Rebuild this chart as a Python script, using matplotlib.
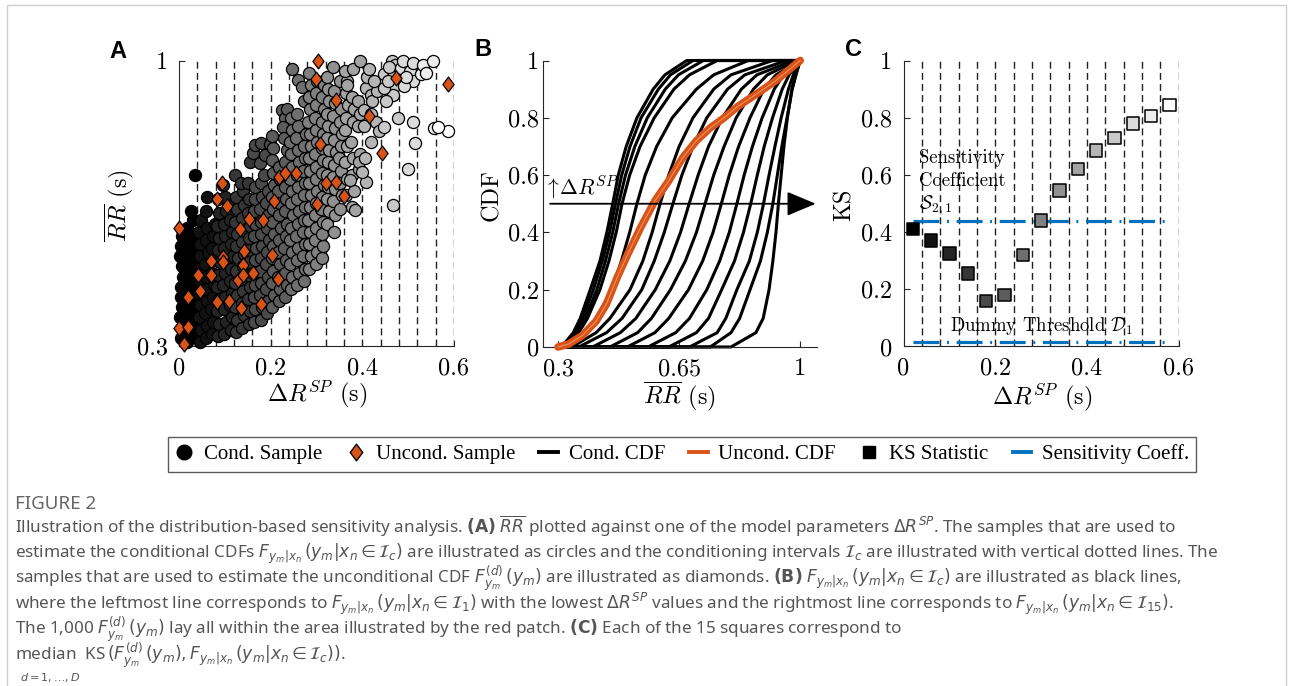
import matplotlib
matplotlib.use('Agg')
import matplotlib.pyplot as plt
from matplotlib.lines import Line2D
from matplotlib.patches import Rectangle
from matplotlib.path import Path

# ---------------- data ----------------
interval_edges = [0.04, 0.08, 0.12, 0.16, 0.20, 0.24, 0.28, 0.32, 0.36, 0.40, 0.44, 0.48, 0.52, 0.56, 0.60]
interval_mid = [0.02, 0.06, 0.10, 0.14, 0.18, 0.22, 0.26, 0.30, 0.34, 0.38, 0.42, 0.46, 0.50, 0.54, 0.58]
interval_gray = [0.0, 0.07, 0.14, 0.21, 0.29, 0.36, 0.43, 0.50, 0.57, 0.64, 0.71, 0.79, 0.86, 0.93, 1.0]

# conditional samples (circles), one list per conditioning interval
cond_x = [
    [0.004, 0.006, 0.003, 0.007, 0.005, 0.004, 0.008, 0.006, 0.003, 0.005, 0.007,
     0.017, 0.020, 0.015, 0.022, 0.018, 0.021, 0.016, 0.019, 0.023, 0.017, 0.020, 0.018,
     0.031, 0.034, 0.029, 0.036, 0.032, 0.035, 0.030, 0.033, 0.037, 0.031, 0.035, 0.030,
     0.034, 0.027],
    [0.045, 0.048, 0.044, 0.047, 0.043, 0.046, 0.049, 0.045, 0.047, 0.044, 0.048,
     0.058, 0.061, 0.057, 0.062, 0.059, 0.060, 0.056, 0.063, 0.058, 0.061, 0.059, 0.062,
     0.072, 0.075, 0.071, 0.074, 0.077, 0.073, 0.076, 0.072, 0.075, 0.078],
    [0.085, 0.088, 0.084, 0.087, 0.083, 0.086, 0.089, 0.085, 0.087, 0.084, 0.088, 0.086,
     0.099, 0.102, 0.098, 0.101, 0.097, 0.100, 0.103, 0.099, 0.101, 0.098, 0.102, 0.100, 0.097,
     0.113, 0.116, 0.112, 0.115, 0.111, 0.114, 0.117, 0.113, 0.115, 0.112, 0.116],
    [0.124, 0.127, 0.123, 0.126, 0.122, 0.125, 0.128, 0.124, 0.126, 0.123, 0.127, 0.125, 0.122,
     0.138, 0.141, 0.137, 0.140, 0.136, 0.139, 0.142, 0.138, 0.140, 0.137, 0.141, 0.139, 0.136,
     0.152, 0.155, 0.151, 0.154, 0.150, 0.153, 0.156, 0.152, 0.154, 0.151, 0.155, 0.153, 0.151],
    [0.164, 0.167, 0.163, 0.166, 0.162, 0.165, 0.168, 0.164, 0.166, 0.163, 0.167, 0.165, 0.162, 0.167,
     0.178, 0.181, 0.177, 0.180, 0.176, 0.179, 0.182, 0.178, 0.180, 0.177, 0.181, 0.179, 0.176, 0.178,
     0.192, 0.195, 0.191, 0.194, 0.190, 0.193, 0.196, 0.192, 0.194, 0.191, 0.195, 0.198, 0.188, 0.185],
    [0.204, 0.207, 0.203, 0.206, 0.202, 0.205, 0.208, 0.204, 0.206, 0.203, 0.207, 0.205, 0.202, 0.206, 0.204,
     0.218, 0.221, 0.217, 0.220, 0.216, 0.219, 0.222, 0.218, 0.220, 0.217, 0.221, 0.219, 0.224, 0.231, 0.227, 0.235,
     0.232, 0.235, 0.231, 0.234, 0.230, 0.233, 0.236, 0.232, 0.234, 0.231, 0.235, 0.232, 0.236, 0.229],
    [0.244, 0.247, 0.243, 0.246, 0.242, 0.245, 0.248, 0.244, 0.246, 0.243, 0.247, 0.245, 0.242, 0.246, 0.244, 0.246, 0.259,
     0.258, 0.261, 0.257, 0.260, 0.256, 0.259, 0.262, 0.258, 0.260, 0.257, 0.261, 0.259, 0.256, 0.260, 0.258,
     0.272, 0.275, 0.271, 0.274, 0.270, 0.273, 0.276, 0.272, 0.274, 0.271, 0.275, 0.273, 0.277, 0.272, 0.268],
    [0.284, 0.287, 0.283, 0.286, 0.282, 0.285, 0.288, 0.284, 0.286, 0.283, 0.287, 0.285, 0.282, 0.286, 0.284, 0.287, 0.283,
     0.298, 0.301, 0.297, 0.300, 0.296, 0.299, 0.302, 0.298, 0.300, 0.297, 0.301, 0.299, 0.296, 0.300, 0.298, 0.301,
     0.312, 0.315, 0.311, 0.314, 0.310, 0.313, 0.316, 0.312, 0.314, 0.311, 0.315, 0.313, 0.317, 0.313, 0.316],
    [0.324, 0.327, 0.323, 0.326, 0.322, 0.325, 0.328, 0.324, 0.326, 0.323, 0.327, 0.325, 0.322,
     0.338, 0.341, 0.337, 0.340, 0.336, 0.339, 0.342, 0.338, 0.340, 0.337, 0.341, 0.339, 0.336,
     0.352, 0.355, 0.351, 0.354, 0.350, 0.353, 0.356, 0.352, 0.354, 0.351],
    [0.364, 0.367, 0.363, 0.366, 0.362, 0.365, 0.368, 0.364, 0.366, 0.363, 0.367,
     0.378, 0.381, 0.377, 0.380, 0.376, 0.379, 0.382, 0.378, 0.380, 0.374,
     0.392, 0.395, 0.391, 0.394, 0.390, 0.396, 0.393, 0.383],
    [0.404, 0.407, 0.418, 0.422, 0.432, 0.418, 0.410, 0.426, 0.407, 0.403, 0.430, 0.415, 0.437, 0.405, 0.400, 0.420],
    [0.448, 0.466, 0.464, 0.466, 0.466, 0.448, 0.477, 0.466, 0.448, 0.455, 0.472, 0.458, 0.452],
    [0.484, 0.488, 0.503, 0.510, 0.492, 0.510, 0.516, 0.499, 0.510, 0.495],
    [0.528, 0.532, 0.555, 0.540, 0.556],
    [0.587, 0.565],
]
cond_y = [
    [0.320, 0.345, 0.370, 0.395, 0.420, 0.445, 0.470, 0.495, 0.520, 0.545, 0.570,
     0.310, 0.335, 0.360, 0.385, 0.410, 0.435, 0.460, 0.485, 0.510, 0.535, 0.560, 0.590,
     0.325, 0.350, 0.375, 0.400, 0.425, 0.450, 0.475, 0.500, 0.525, 0.550, 0.575, 0.610,
     0.719, 0.632],
    [0.31, 0.34, 0.37, 0.40, 0.43, 0.46, 0.49, 0.52, 0.55, 0.58, 0.61,
     0.32, 0.35, 0.38, 0.41, 0.44, 0.47, 0.50, 0.53, 0.56, 0.59, 0.63, 0.665,
     0.33, 0.36, 0.39, 0.42, 0.45, 0.48, 0.51, 0.54, 0.57, 0.60],
    [0.325, 0.355, 0.385, 0.415, 0.445, 0.475, 0.505, 0.535, 0.565, 0.595, 0.625, 0.660,
     0.330, 0.360, 0.390, 0.420, 0.450, 0.480, 0.510, 0.540, 0.570, 0.600, 0.630, 0.665, 0.695,
     0.340, 0.370, 0.400, 0.430, 0.460, 0.490, 0.520, 0.550, 0.580, 0.610, 0.645],
    [0.335, 0.365, 0.395, 0.425, 0.455, 0.485, 0.515, 0.545, 0.575, 0.605, 0.635, 0.665, 0.720,
     0.345, 0.375, 0.405, 0.435, 0.465, 0.495, 0.525, 0.555, 0.585, 0.615, 0.645, 0.680, 0.700,
     0.355, 0.385, 0.415, 0.445, 0.475, 0.505, 0.535, 0.565, 0.595, 0.625, 0.751, 0.660, 0.700],
    [0.360, 0.390, 0.420, 0.450, 0.480, 0.510, 0.540, 0.570, 0.600, 0.630, 0.660, 0.690, 0.773, 0.793,
     0.365, 0.395, 0.425, 0.455, 0.485, 0.515, 0.545, 0.575, 0.605, 0.635, 0.665, 0.700, 0.748, 0.797,
     0.380, 0.410, 0.440, 0.470, 0.500, 0.530, 0.560, 0.590, 0.620, 0.650, 0.680, 0.795, 0.768, 0.720],
    [0.395, 0.425, 0.455, 0.485, 0.515, 0.545, 0.575, 0.605, 0.635, 0.665, 0.695, 0.725, 0.755, 0.785, 0.815,
     0.410, 0.440, 0.470, 0.500, 0.530, 0.560, 0.590, 0.620, 0.650, 0.680, 0.710, 0.740, 0.879, 0.860, 0.837, 0.881,
     0.420, 0.450, 0.480, 0.510, 0.540, 0.570, 0.600, 0.630, 0.660, 0.690, 0.720, 0.750, 0.780, 0.810],
    [0.44, 0.47, 0.50, 0.53, 0.56, 0.59, 0.62, 0.65, 0.68, 0.71, 0.74, 0.77, 0.80, 0.83, 0.86, 0.978, 0.951,
     0.45, 0.48, 0.51, 0.54, 0.57, 0.60, 0.63, 0.66, 0.69, 0.72, 0.75, 0.78, 0.81, 0.84, 0.87,
     0.46, 0.49, 0.52, 0.55, 0.58, 0.61, 0.64, 0.67, 0.70, 0.73, 0.76, 0.79, 0.82, 0.90, 0.935],
    [0.49, 0.52, 0.55, 0.58, 0.61, 0.64, 0.67, 0.70, 0.73, 0.76, 0.79, 0.82, 0.85, 0.88, 0.91, 0.94, 0.97,
     0.50, 0.53, 0.56, 0.59, 0.62, 0.65, 0.68, 0.71, 0.74, 0.77, 0.80, 0.83, 0.86, 0.89, 0.92, 0.95,
     0.515, 0.545, 0.575, 0.605, 0.635, 0.665, 0.695, 0.725, 0.755, 0.785, 0.82, 0.85, 0.88, 0.91, 0.94],
    [0.60, 0.63, 0.66, 0.69, 0.72, 0.75, 0.78, 0.81, 0.84, 0.87, 0.90, 0.93, 0.96,
     0.58, 0.62, 0.655, 0.685, 0.715, 0.745, 0.775, 0.805, 0.835, 0.865, 0.895, 0.925, 0.985,
     0.637, 0.67, 0.70, 0.73, 0.76, 0.79, 0.82, 0.85, 0.88, 0.95],
    [0.67, 0.71, 0.75, 0.79, 0.83, 0.86, 0.89, 0.92, 0.95, 0.975, 0.94,
     0.64, 0.68, 0.72, 0.76, 0.80, 0.85, 0.88, 0.91, 0.978, 0.707,
     0.735, 0.77, 0.84, 0.87, 0.90, 1.0, 0.752, 0.633],
    [0.879, 0.933, 0.916, 0.900, 0.925, 0.870, 0.960, 0.950, 0.703, 0.840, 0.850, 0.980, 0.826, 0.760, 0.727, 0.800],
    [0.966, 0.974, 1.000, 0.933, 0.916, 0.838, 0.860, 0.645, 0.933, 0.950, 0.990, 0.985, 0.900],
    [0.982, 1.000, 0.974, 0.949, 0.937, 0.850, 0.797, 0.735, 0.995, 0.960],
    [0.966, 0.990, 1.000, 0.970, 0.835],
    [0.826, 0.836],
]

# unconditional samples (diamonds)
uncond_x = [0.303, 0.299, 0.474, 0.588, 0.343, 0.415, 0.307, 0.442, 0.095, 0.219, 0.232, 0.255,
            0.320, 0.342, 0.361, 0.082, 0.104, 0.207, 0.301, 0.000, 0.153, 0.184, 0.133, 0.142,
            0.202, 0.096, 0.069, 0.096, 0.140, 0.161, 0.042, 0.071, 0.128, 0.140, 0.215, 0.045,
            0.020, 0.084, 0.109, 0.135, 0.180, 0.000, 0.020, 0.012]
uncond_y = [1.000, 0.955, 0.957, 0.943, 0.904, 0.864, 0.795, 0.774, 0.700, 0.715, 0.725, 0.723,
            0.700, 0.702, 0.667, 0.660, 0.643, 0.656, 0.649, 0.590, 0.612, 0.610, 0.587, 0.534,
            0.522, 0.519, 0.509, 0.505, 0.499, 0.479, 0.474, 0.474, 0.462, 0.474, 0.464, 0.435,
            0.420, 0.408, 0.411, 0.394, 0.402, 0.343, 0.347, 0.306]

# conditional CDFs: RR value reached at each CDF level, one row per interval
cdf_levels = [0.0, 0.05, 0.1, 0.2, 0.3, 0.4, 0.5, 0.6, 0.7, 0.8, 0.9, 0.95, 1.0]
cond_cdf_q = [
    [0.310, 0.344, 0.364, 0.393, 0.421, 0.441, 0.458, 0.474, 0.497, 0.528, 0.575, 0.609, 0.672],
    [0.310, 0.350, 0.370, 0.402, 0.428, 0.449, 0.466, 0.484, 0.508, 0.540, 0.590, 0.625, 0.690],
    [0.315, 0.355, 0.378, 0.412, 0.437, 0.458, 0.475, 0.495, 0.522, 0.558, 0.610, 0.648, 0.720],
    [0.320, 0.360, 0.385, 0.421, 0.447, 0.468, 0.485, 0.507, 0.537, 0.578, 0.635, 0.680, 0.760],
    [0.330, 0.380, 0.410, 0.455, 0.483, 0.507, 0.528, 0.552, 0.585, 0.630, 0.700, 0.750, 0.850],
    [0.340, 0.410, 0.450, 0.508, 0.545, 0.572, 0.595, 0.620, 0.650, 0.690, 0.750, 0.800, 0.920],
    [0.360, 0.440, 0.485, 0.542, 0.578, 0.607, 0.632, 0.658, 0.690, 0.730, 0.790, 0.840, 0.960],
    [0.400, 0.480, 0.525, 0.581, 0.623, 0.654, 0.679, 0.705, 0.735, 0.775, 0.830, 0.875, 0.980],
    [0.450, 0.530, 0.570, 0.625, 0.668, 0.700, 0.725, 0.750, 0.780, 0.815, 0.865, 0.905, 0.990],
    [0.500, 0.580, 0.620, 0.677, 0.718, 0.748, 0.772, 0.795, 0.822, 0.855, 0.895, 0.930, 1.000],
    [0.560, 0.640, 0.680, 0.730, 0.767, 0.795, 0.817, 0.838, 0.862, 0.890, 0.925, 0.952, 1.000],
    [0.620, 0.700, 0.735, 0.773, 0.810, 0.836, 0.857, 0.876, 0.896, 0.920, 0.948, 0.968, 1.000],
    [0.680, 0.760, 0.785, 0.817, 0.853, 0.876, 0.894, 0.910, 0.927, 0.945, 0.966, 0.980, 1.000],
    [0.740, 0.800, 0.825, 0.855, 0.885, 0.905, 0.921, 0.934, 0.947, 0.962, 0.977, 0.988, 1.000],
    [0.800, 0.872, 0.893, 0.910, 0.921, 0.930, 0.937, 0.945, 0.953, 0.963, 0.976, 0.987, 1.000],
]
uncond_cdf_x = [0.30, 0.33, 0.37, 0.41, 0.44, 0.47, 0.50, 0.54, 0.58, 0.62, 0.66, 0.70, 0.74, 0.78, 0.82, 0.87, 0.93, 1.00]
uncond_cdf_y = [0.00, 0.01, 0.04, 0.09, 0.15, 0.24, 0.32, 0.42, 0.51, 0.58, 0.66, 0.72, 0.765, 0.80, 0.84, 0.88, 0.93, 1.00]

# KS statistic per interval and the two reference levels
ks_stat = [0.41, 0.37, 0.325, 0.255, 0.16, 0.18, 0.32, 0.44, 0.545, 0.62, 0.685, 0.73, 0.78, 0.805, 0.845]
sens_coeff = 0.44
dummy_threshold = 0.017

ORANGE = '#D95319'
BLUE = '#0072BD'
AXC = '#262626'

plt.rcParams['font.family'] = 'serif'
plt.rcParams['font.serif'] = ['cmr10']
plt.rcParams['mathtext.fontset'] = 'cm'
plt.rcParams['axes.formatter.use_mathtext'] = True
plt.rcParams['font.size'] = 17

diamond = Path([(0, 1), (0.75, 0), (0, -1), (-0.75, 0), (0, 1)],
               [Path.MOVETO, Path.LINETO, Path.LINETO, Path.LINETO, Path.CLOSEPOLY])

fig = plt.figure(figsize=(12.93, 6.86), dpi=100)


def style_axes(ax, ypad):
    for s in ['top', 'right']:
        ax.spines[s].set_visible(False)
    for s in ['left', 'bottom']:
        ax.spines[s].set_color(AXC)
        ax.spines[s].set_linewidth(0.8)
    ax.tick_params(direction='in', length=4, width=0.8, color=AXC, labelsize=17.5)
    ax.tick_params(axis='x', pad=8)
    ax.tick_params(axis='y', pad=ypad)


# ---------------- panel A ----------------
axA = fig.add_axes([0.1384, 0.4956, 0.2127, 0.4162])
axA.set_xlim(0, 0.6)
axA.set_ylim(0.3, 1)
axA.vlines(interval_edges, 0.3, 1.0, colors='#222222', linestyles=(0, (5, 3)), linewidth=1.0, zorder=1)
for c in range(len(cond_x)):
    g = interval_gray[c]
    axA.scatter(cond_x[c], cond_y[c], s=76, color=(g, g, g), edgecolors='k', linewidths=0.9,
                zorder=3, clip_on=False)
axA.scatter(uncond_x, uncond_y, marker=diamond, s=115, color=ORANGE, edgecolors='k', linewidths=0.9,
            zorder=4, clip_on=False)
axA.set_xticks([0, 0.2, 0.4, 0.6])
axA.set_xticklabels(['0', '0.2', '0.4', '0.6'])
axA.set_yticks([0.3, 1])
axA.set_yticklabels(['0.3', '1'])
style_axes(axA, 8)
axA.text(0.502, -0.172, r'$\Delta R^{SP}$ (s)', transform=axA.transAxes, ha='center', va='center', fontsize=17.5)
axA.text(-0.215, 0.494, r'$\overline{RR}$ (s)', transform=axA.transAxes, ha='center', va='center',
         rotation=90, fontsize=17.5)

# ---------------- panel B ----------------
axB = fig.add_axes([0.4200, 0.4942, 0.2117, 0.4176])
axB.set_xlim(0.2566, 1.048)
axB.set_ylim(0, 1)
for q in cond_cdf_q:
    axB.plot([0.3] + q + [1.0], [0.0] + cdf_levels + [1.0], color='k', lw=2.2, clip_on=False, zorder=2,
             solid_joinstyle='round')
axB.plot(uncond_cdf_x, uncond_cdf_y, color=ORANGE, lw=5.5, clip_on=False, zorder=3, solid_capstyle='round')
axB.plot(uncond_cdf_x, uncond_cdf_y, color='#E9915F', lw=0.8, clip_on=False, zorder=3)
axB.annotate('', xy=(1.045, 0.5), xytext=(0.277, 0.5),
             arrowprops=dict(arrowstyle='-|>,head_length=1.0,head_width=0.42', color='k', lw=1.3,
                             mutation_scale=18, shrinkA=0, shrinkB=0),
             annotation_clip=False, zorder=4)
axB.text(0.26, 0.53, r'$\uparrow\!\Delta R^{SP}$', ha='left', va='baseline', fontsize=15.5, zorder=6)
axB.set_xticks([0.3, 0.65, 1])
axB.set_xticklabels(['0.3', '0.65', '1'])
axB.set_yticks([0, 0.2, 0.4, 0.6, 0.8, 1])
axB.set_yticklabels(['0', '0.2', '0.4', '0.6', '0.8', '1'])
style_axes(axB, 3)
axB.text(0.497, -0.172, r'$\overline{RR}$ (s)', transform=axB.transAxes, ha='center', va='center', fontsize=17.5)
axB.text(-0.186, 0.53, 'CDF', transform=axB.transAxes, ha='center', va='center', rotation=90, fontsize=17.5)

# ---------------- panel C ----------------
axC = fig.add_axes([0.6988, 0.4949, 0.2128, 0.4169])
axC.set_xlim(0, 0.6)
axC.set_ylim(0, 1)
axC.vlines(interval_edges, 0, 1.0, colors='#222222', linestyles=(0, (5, 3)), linewidth=1.0, zorder=1)
axC.plot([interval_mid[0], interval_mid[-1]], [sens_coeff, sens_coeff], color=BLUE, lw=2.3,
         dashes=(8.1, 2.4, 0.6, 2.4), zorder=2)
axC.plot([interval_mid[0], interval_mid[-1]], [dummy_threshold, dummy_threshold], color=BLUE, lw=2.3,
         dashes=(8.1, 2.4, 0.6, 2.4), zorder=2, clip_on=False)
axC.scatter(interval_mid, ks_stat, marker='s', s=80, color=[(g, g, g) for g in interval_gray],
            edgecolors='k', linewidths=1.1, zorder=4, clip_on=False)
axC.text(0.034, 0.66, 'Sensitivity', ha='left', va='center', fontsize=13.5)
axC.text(0.034, 0.577, 'Coefficient', ha='left', va='center', fontsize=13.5)
axC.text(0.034, 0.495, r'$\mathcal{S}_{2,1}$', ha='left', va='center', fontsize=14)
axC.text(0.301, 0.072, r'Dummy Threshold $\mathcal{D}_1$', ha='center', va='center', fontsize=13.5)
axC.set_xticks([0, 0.2, 0.4, 0.6])
axC.set_xticklabels(['0', '0.2', '0.4', '0.6'])
axC.set_yticks([0, 0.2, 0.4, 0.6, 0.8, 1])
axC.set_yticklabels(['0', '0.2', '0.4', '0.6', '0.8', '1'])
style_axes(axC, 8)
axC.text(0.503, -0.18, r'$\Delta R^{SP}$ (s)', transform=axC.transAxes, ha='center', va='center', fontsize=17.5)
axC.text(-0.213, 0.495, 'KS', transform=axC.transAxes, ha='center', va='center', rotation=90, fontsize=17.5)

# panel letters
for lab, px, py in [('A', 118, 51), ('B', 483, 49), ('C', 854, 49)]:
    fig.text(px / 1293, 1 - py / 686, lab, ha='center', va='center', fontsize=17,
             family='Liberation Sans', weight='bold')

# ---------------- legend ----------------
handles = [
    Line2D([], [], ls='none', marker='o', markersize=10.5, color='k'),
    Line2D([], [], ls='none', marker=diamond, markersize=12, markerfacecolor=ORANGE, markeredgecolor='k'),
    Line2D([], [], color='k', lw=2.8),
    Line2D([], [], color=ORANGE, lw=2.8),
    Line2D([], [], ls='none', marker='s', markersize=8, color='k'),
    Line2D([], [], color=BLUE, lw=2.8),
]
labels = ['Cond. Sample', 'Uncond. Sample', 'Cond. CDF', 'Uncond. CDF', 'KS Statistic', 'Sensitivity Coeff.']
leg = fig.legend(handles, labels, loc='center', bbox_to_anchor=(682 / 1293, 1 - 454.5 / 686), ncol=6,
                 frameon=True, fancybox=False, prop={'family': 'Liberation Serif', 'size': 15},
                 handlelength=0.9, handletextpad=0.5, columnspacing=1.16, borderpad=0.35)
leg.get_frame().set_edgecolor('#333333')
leg.get_frame().set_linewidth(1.0)

# ---------------- caption ----------------
CAP = '#555555'
fig.text(15 / 1293, 1 - 509 / 686, 'FIGURE 2', ha='left', va='baseline', fontsize=13.5,
         family='Noto Sans', weight='bold', color='#666666')
caption = [
    r'Illustration of the distribution-based sensitivity analysis. $\mathbf{(A)}$ $\overline{RR}$ plotted against '
    r'one of the model parameters $\Delta R^{SP}$. The samples that are used to',
    r'estimate the conditional CDFs $F_{y_m|x_n}\,(y_m|x_n \in \mathcal{I}_c)$ are illustrated as circles and the '
    r'conditioning intervals $\mathcal{I}_c$ are illustrated with vertical dotted lines. The',
    r'samples that are used to estimate the unconditional CDF $F_{y_m}^{(d)}\,(y_m)$ are illustrated as diamonds. '
    r'$\mathbf{(B)}$ $F_{y_m|x_n}\,(y_m|x_n \in \mathcal{I}_c)$ are illustrated as black lines,',
    r'where the leftmost line corresponds to $F_{y_m|x_n}\,(y_m|x_n \in \mathcal{I}_1)$ with the lowest '
    r'$\Delta R^{SP}$ values and the rightmost line corresponds to $F_{y_m|x_n}\,(y_m|x_n \in \mathcal{I}_{15})$.',
    r'The 1,000 $F_{y_m}^{(d)}\,(y_m)$ lay all within the area illustrated by the red patch. $\mathbf{(C)}$ '
    r'Each of the 15 squares correspond to',
    r'median  KS$\,(F_{y_m}^{(d)}\,(y_m), F_{y_m|x_n}\,(y_m|x_n \in \mathcal{I}_c))$.',
]
baselines = [533, 557.5, 583, 609, 633.5, 660]
for line, yb in zip(caption, baselines):
    fig.text(15 / 1293, 1 - yb / 686, line, ha='left', va='baseline', fontsize=12.3,
             family='Noto Sans', color=CAP, math_fontfamily='dejavusans')
fig.text(20 / 1293, 1 - 681 / 686, r'$d=1,\ldots,D$', ha='left', va='baseline', fontsize=8,
         color=CAP, math_fontfamily='dejavusans')

# outer card frame
fig.patches.append(Rectangle((7 / 1293, -0.1), (1286 - 7) / 1293, 1.1 - 5 / 686, transform=fig.transFigure,
                             fill=False, edgecolor='#cfcfcf', linewidth=1.0))

fig.savefig('out.png', dpi=100)
